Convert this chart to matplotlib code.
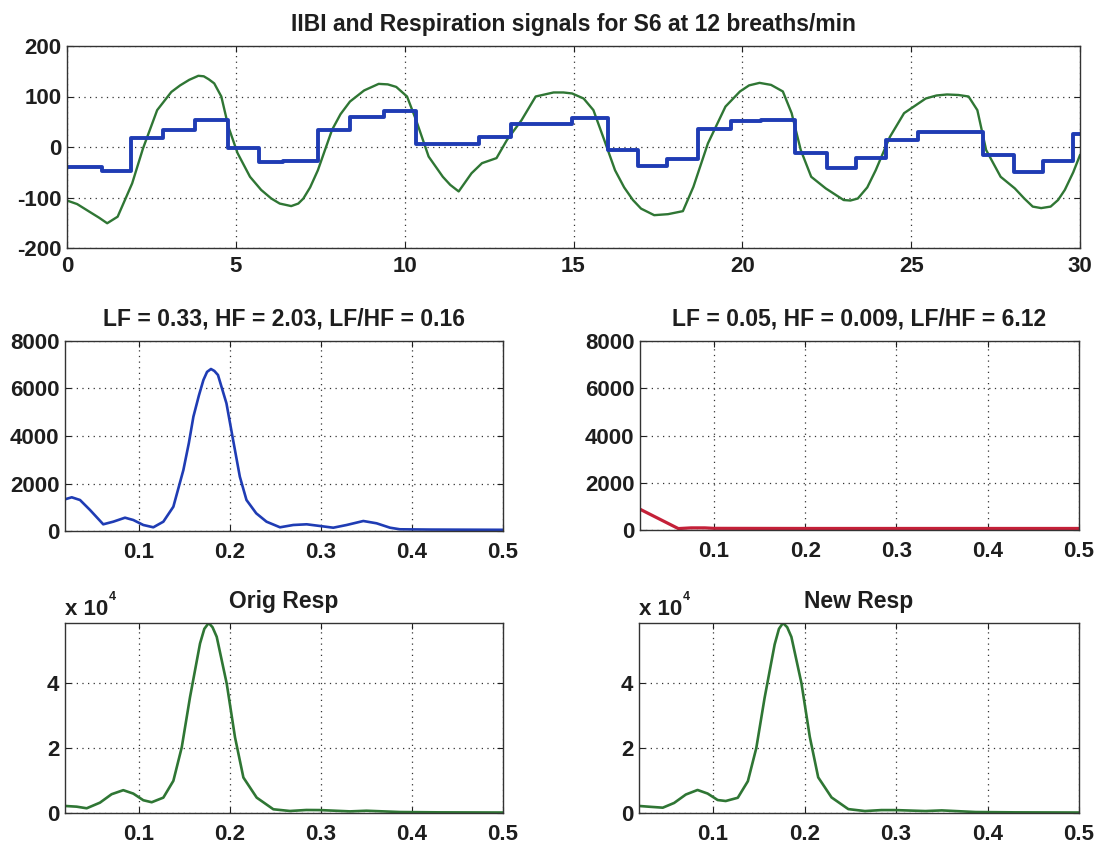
import numpy as np
import matplotlib
matplotlib.use("Agg")
import matplotlib.pyplot as plt

# ---------------- data ----------------
# Respiration signal (green) over time, seconds
resp_t = [0.0, 0.3, 0.66, 0.95, 1.19, 1.5, 1.93, 2.25, 2.67, 3.09, 3.35, 3.62, 3.89, 4.05, 4.2, 4.36, 4.57,
          4.78, 5.05, 5.42, 5.75, 6.05, 6.3, 6.64, 6.85, 7.0, 7.2, 7.43, 7.85, 8.1, 8.38, 8.8, 9.23, 9.5, 9.75,
          10.07, 10.34, 10.71, 11.13, 11.35, 11.6, 11.98, 12.29, 12.72, 13.03, 13.46, 13.88, 14.41,
          14.7, 14.96, 15.3, 15.59, 15.91, 16.23, 16.5, 16.76, 17.0, 17.39, 17.8, 18.24, 18.55, 18.98,
          19.5, 19.93, 20.2, 20.51, 20.85, 21.2, 21.46, 21.73, 22.04, 22.47, 23.0, 23.2, 23.42,
          23.7, 23.95, 24.37, 24.79, 25.43, 25.75, 26.06, 26.4, 26.7, 26.96, 27.22, 27.65, 28.07,
          28.35, 28.6, 28.85, 29.13, 29.35, 29.55, 29.8, 30.0]
resp_v = [-106, -113, -128, -140, -151, -138, -72, -3, 73, 109, 122, 133, 141, 140, 134, 126, 100,
          40, -12, -59, -85, -102, -112, -117, -112, -102, -80, -46, 34, 65, 90, 112, 125, 124, 119,
          100, 53, -19, -59, -75, -88, -52, -32, -22, 14, 53, 100, 108,
          108, 106, 96, 73, 14, -46, -80, -105, -122, -135, -133, -127, -79, 7,
          80, 110, 122, 127, 123, 110, 67, -6, -59, -82, -105, -106, -102,
          -80, -46, 20, 67, 96, 102, 104, 103, 100, 73, -6, -59, -82,
          -102, -118, -121, -118, -105, -85, -50, -16]

# IIBI step signal (blue): start time of each step and its level
iibi_t = [0, 1.03, 1.91, 2.83, 3.78, 4.78, 5.68, 6.4, 7.43, 8.38, 9.38, 10.34, 12.19, 13.14,
          14.96, 16.02, 16.91, 17.76, 18.69, 19.66, 20.56, 21.57, 22.5, 23.36, 24.26, 25.2,
          27.12, 28.05, 28.9, 29.79]
iibi_v = [-39, -47, 17, 34, 53, -1, -30, -27, 34, 59, 71, 5, 19, 45,
          57, -6, -38, -24, 35, 52, 54, -11, -41, -22, 14, 30,
          -16, -50, -28, 26]

# IIBI power spectrum (blue)
psd_f = [0.019, 0.0264, 0.0355, 0.0465, 0.061, 0.072, 0.0849, 0.094, 0.105, 0.116, 0.127,
         0.138, 0.149, 0.155, 0.160, 0.166, 0.171, 0.175, 0.1793, 0.183, 0.187, 0.1963, 0.2036,
         0.211, 0.2183, 0.229, 0.2403, 0.2551, 0.2697, 0.2844, 0.299, 0.3136, 0.3283, 0.3466,
         0.3612, 0.3759, 0.3868, 0.42, 0.46, 0.5]
psd_v = [1335, 1419, 1305, 884, 282, 392, 560, 463, 253, 156, 392,
         1023, 2568, 3700, 4813, 5700, 6358, 6700, 6821, 6740, 6568, 5375, 3832,
         2287, 1305, 745, 392, 156, 253, 282, 211, 139, 253, 421,
         324, 139, 72, 60, 55, 50]

# New-respiration IIBI spectrum (red)
psd2_f = [0.019, 0.061, 0.075, 0.09, 0.1, 0.2, 0.3, 0.4, 0.5]
psd2_v = [880, 60, 90, 90, 70, 65, 65, 65, 65]

# Original respiration spectrum (green)
orig_f = [0.019, 0.0318, 0.0428, 0.0574, 0.0702, 0.083, 0.094, 0.105, 0.1142, 0.127, 0.138,
          0.1472, 0.1563, 0.1673, 0.172, 0.1768, 0.181, 0.1856, 0.1966, 0.2057, 0.2149, 0.2295,
          0.2478, 0.266, 0.284, 0.299, 0.332, 0.35, 0.387, 0.43, 0.5]
orig_v = [2170, 1953, 1457, 3194, 5798, 7038, 5984, 3938, 3318, 4744, 9922,
          20246, 35750, 52300, 56800, 58600, 57300, 54350, 39900, 23350, 10945, 4744,
          1147, 620, 930, 900, 500, 700, 300, 200, 150]

# New respiration spectrum (green)
new_f = [0.019, 0.0318, 0.045, 0.0574, 0.0702, 0.083, 0.094, 0.105, 0.1138, 0.127, 0.138,
         0.1472, 0.1563, 0.1673, 0.172, 0.1764, 0.181, 0.1856, 0.1966, 0.2057, 0.2149, 0.2295,
         0.2478, 0.266, 0.284, 0.299, 0.332, 0.35, 0.387, 0.43, 0.5]
new_v = [2170, 1900, 1640, 3100, 5700, 7100, 6000, 4000, 3700, 4700, 9800,
         20000, 35500, 52000, 56800, 58600, 57300, 54300, 40000, 23500, 11000, 4800,
         1200, 600, 900, 900, 600, 800, 300, 200, 150]

main_title = "IIBI and Respiration signals for S6 at 12 breaths/min"
title_left = "LF = 0.33, HF = 2.03, LF/HF = 0.16"
title_right = "LF = 0.05, HF = 0.009, LF/HF = 6.12"
title_orig = "Orig Resp"
title_new = "New Resp"

time_ticks = [0, 5, 10, 15, 20, 25, 30]
sig_ticks = [-200, -100, 0, 100, 200]
freq_ticks = [0.1, 0.2, 0.3, 0.4, 0.5]
freq_labels = ["0.1", "0.2", "0.3", "0.4", "0.5"]
psd_ticks = [0, 2000, 4000, 6000, 8000]
resp_ticks = [0, 20000, 40000]
resp_labels = ["0", "2", "4"]

# ---------------- styling ----------------
FONT = ["Liberation Sans", "DejaVu Sans"]
plt.rcParams["font.family"] = FONT
plt.rcParams["font.weight"] = "bold"
plt.rcParams["axes.unicode_minus"] = False

W, H = 1099, 843
fig = plt.figure(figsize=(W / 100, H / 100), dpi=100)
fig.patch.set_facecolor("white")

BLUE = "#1f3cb4"
GREEN = "#2f7634"
RED = "#c42038"
TXT = "#1e1e1e"
FMIN = 0.019


def make_axes(l, t, r, b):
    return fig.add_axes([l / W, 1 - b / H, (r - l) / W, (b - t) / H])


def style(ax):
    for s in ax.spines.values():
        s.set_color("#333333")
        s.set_linewidth(1.0)
    ax.tick_params(direction="in", length=4, width=0.8, top=True, right=True,
                   labelsize=16, colors=TXT)
    ax.tick_params(axis="y", pad=4)
    ax.tick_params(axis="x", pad=8)
    for lab in ax.get_xticklabels() + ax.get_yticklabels():
        lab.set_fontweight("bold")
    ax.grid(True, linestyle=(0, (1, 3.5)), color="#333333", linewidth=0.9)
    ax.set_axisbelow(True)


# top: time signals
ax0 = make_axes(67, 46, 1080, 248)
ax0.plot(resp_t, resp_v, color=GREEN, lw=1.7)
ax0.step(iibi_t + [30], iibi_v + [iibi_v[-1]], where="post", color=BLUE, lw=2.8)
ax0.set_xlim(0, 30)
ax0.set_ylim(-200, 200)
ax0.set_xticks(time_ticks)
ax0.set_yticks(sig_ticks)
style(ax0)
ax0.tick_params(axis="x", pad=6)
ax0.set_title(main_title, fontsize=16.5, fontweight="bold", pad=11, color=TXT)

# middle: IIBI spectra
ax1 = make_axes(65, 341, 503, 531)
ax1.plot(psd_f, psd_v, color=BLUE, lw=1.9)
ax2 = make_axes(640, 341, 1079, 530)
ax2.plot(psd2_f, psd2_v, color=RED, lw=2.3)
for ax, ttl in ((ax1, title_left), (ax2, title_right)):
    ax.set_xlim(FMIN, 0.5)
    ax.set_ylim(0, 8000)
    ax.set_xticks(freq_ticks)
    ax.set_xticklabels(freq_labels)
    ax.set_yticks(psd_ticks)
    style(ax)
    ax.set_title(ttl, fontsize=16.5, fontweight="bold", pad=11, color=TXT)

# bottom: respiration spectra, y scaled by 10^4
ax3 = make_axes(65, 623, 503, 813)
ax3.plot(orig_f, orig_v, color=GREEN, lw=1.9)
ax4 = make_axes(639, 623, 1079, 813)
ax4.plot(new_f, new_v, color=GREEN, lw=1.9)
for ax, ttl in ((ax3, title_orig), (ax4, title_new)):
    ax.set_xlim(FMIN, 0.5)
    ax.set_ylim(0, max(max(orig_v), max(new_v)))
    ax.set_xticks(freq_ticks)
    ax.set_xticklabels(freq_labels)
    ax.set_yticks(resp_ticks)
    ax.set_yticklabels(resp_labels)
    style(ax)
    ax.set_title(ttl, fontsize=16.5, fontweight="bold", pad=11, color=TXT)
    ax.text(0.0, 1.043, "x 10", transform=ax.transAxes, fontsize=16,
            fontweight="bold", ha="left", va="baseline", color=TXT)
    ax.text(0.1, 1.12, "4", transform=ax.transAxes, fontsize=9,
            fontweight="bold", ha="left", va="baseline", color=TXT)

fig.savefig("out.png", dpi=100, facecolor="white")
